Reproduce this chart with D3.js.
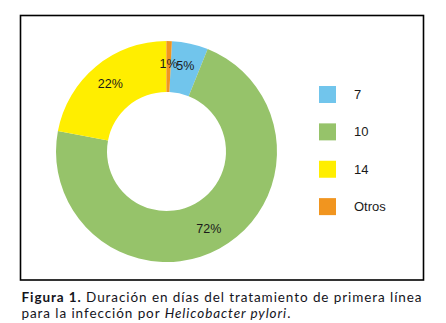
<!DOCTYPE html>
<html>
<head>
<meta charset="utf-8">
<script src="https://cdn.jsdelivr.net/npm/d3@7"></script>
<style>
  body { margin: 0; background: #fff; }
  svg { display: block; }
</style>
</head>
<body>
<svg id="chart" width="446" height="323"></svg>
<script>
// datos
var categorias = ["7", "10", "14", "Otros"];
var valores = [5.3, 71.9, 22.0, 0.8];
var colores = ["#71C5EC", "#96C36A", "#FFEE00", "#F1951F"];

var svg = d3.select("#chart");
var cx = 166.5, cy = 151.5;
var rOut = 110.5, rIn = 59.5;

// marco
svg.append("rect")
  .attr("x", 20.5).attr("y", 15.5)
  .attr("width", 403).attr("height", 264.5)
  .attr("fill", "none")
  .attr("stroke", "#000")
  .attr("stroke-width", 1.6);

var inicio = 2.8 * Math.PI / 180;
var pie = d3.pie().sort(null).value(d => d)
  .startAngle(inicio).endAngle(inicio + 2 * Math.PI);
var arcos = pie(valores);

var arc = d3.arc().innerRadius(rIn).outerRadius(rOut);
var arcLabel = d3.arc().innerRadius(88).outerRadius(88);

var g = svg.append("g").attr("transform", "translate(" + cx + "," + cy + ")");

g.selectAll("path")
  .data(arcos)
  .enter().append("path")
  .attr("d", arc)
  .attr("fill", (d, i) => colores[i]);

g.selectAll("text")
  .data(arcos)
  .enter().append("text")
  .attr("transform", d => "translate(" + arcLabel.centroid(d) + ")")
  .attr("text-anchor", "middle")
  .attr("dy", "0.35em")
  .attr("font-family", "Liberation Sans, Arial, sans-serif")
  .attr("font-size", 12.5)
  .attr("fill", "#1a1a1a")
  .text(d => Math.round(d.data) + "%");

// leyenda
var yLeg = d3.scaleBand().domain(categorias).range([86, 235.5]).paddingInner(0);
var leg = svg.selectAll(".leg")
  .data(categorias)
  .enter().append("g")
  .attr("class", "leg")
  .attr("transform", d => "translate(319," + yLeg(d) + ")");

leg.append("rect")
  .attr("width", 17).attr("height", 17)
  .attr("fill", (d, i) => colores[i]);

leg.append("text")
  .attr("x", 35).attr("y", 8.5)
  .attr("dy", "0.35em")
  .attr("font-family", "Liberation Sans, Arial, sans-serif")
  .attr("font-size", 13)
  .attr("fill", "#1a1a1a")
  .text(d => d);

// pie de figura
var fs = 13.5;
var cap1 = svg.append("text")
  .attr("x", 21.5).attr("y", 301.5)
  .attr("font-family", "Lato, sans-serif")
  .attr("font-size", fs)
  .attr("fill", "#14141c");
cap1.append("tspan").attr("font-weight", "bold").text("Figura 1.");
cap1.append("tspan").text(" Duración en días del tratamiento de primera línea");

// estirar con letter-spacing hasta el ancho del marco
var w = cap1.node().getComputedTextLength();
var n = cap1.text().length;
var ls = (401 - w) / n;
cap1.attr("letter-spacing", ls);

var cap2 = svg.append("text")
  .attr("x", 21.5).attr("y", 317.8)
  .attr("font-family", "Lato, sans-serif")
  .attr("font-size", fs)
  .attr("letter-spacing", ls)
  .attr("fill", "#14141c");
cap2.append("tspan").text("para la infección por ");
cap2.append("tspan").attr("font-style", "italic").text("Helicobacter pylori");
cap2.append("tspan").text(".");
</script>
</body>
</html>
